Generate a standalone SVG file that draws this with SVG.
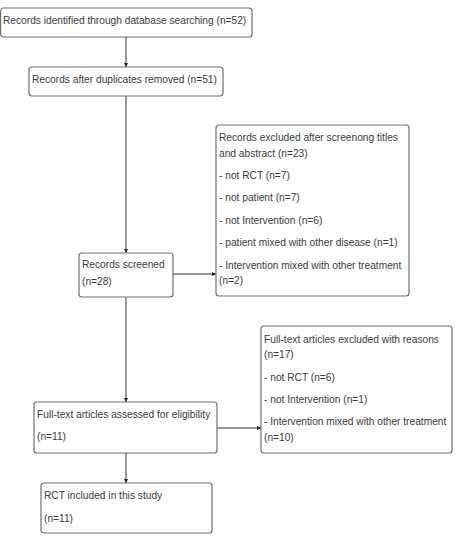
<svg xmlns="http://www.w3.org/2000/svg" width="455" height="538" viewBox="0 0 455 538">
<defs>
<style>
.box{fill:#fff;stroke:#6f6f6f;stroke-width:1.2}
text{font-family:"Liberation Sans",Arial,sans-serif;font-size:10.2px;fill:#3a3a3a}
.ln{stroke:#333;stroke-width:1;fill:none}
</style>
<marker id="ah" viewBox="0 0 6 6" refX="6" refY="3" markerWidth="4" markerHeight="4" orient="auto" markerUnits="userSpaceOnUse">
<path d="M0,0 L6,3 L0,6 z" fill="#222"/>
</marker>
</defs>
<rect width="455" height="538" fill="#fff"/>
<g id="connectors">
<path class="ln" d="M126,37 V67" marker-end="url(#ah)"/>
<path class="ln" d="M126,96 V253" marker-end="url(#ah)"/>
<path class="ln" d="M173,274 H216" marker-end="url(#ah)"/>
<path class="ln" d="M126,297 V402" marker-end="url(#ah)"/>
<path class="ln" d="M217,428 H261" marker-end="url(#ah)"/>
<path class="ln" d="M126,453 V483" marker-end="url(#ah)"/>
</g>
<g id="identified">
<rect class="box" x="0.6" y="8" width="251.4" height="29" rx="3"/>
<text x="3" y="24">Records identified through database searching (n=52)</text>
</g>
<g id="duplicates">
<rect class="box" x="29" y="67" width="194" height="29" rx="3"/>
<text x="32" y="83">Records after duplicates removed (n=51)</text>
</g>
<g id="excluded1">
<rect class="box" x="216" y="125" width="193" height="171" rx="3"/>
<text x="219" y="141">Records excluded after screenong titles</text>
<text x="219" y="157">and abstract (n=23)</text>
<text x="219" y="179">- not RCT (n=7)</text>
<text x="219" y="201">- not patient (n=7)</text>
<text x="219" y="224">- not Intervention (n=6)</text>
<text x="219" y="246">- patient mixed with other disease (n=1)</text>
<text x="219" y="269">- Intervention mixed with other treatment</text>
<text x="219" y="284">(n=2)</text>
</g>
<g id="screened">
<rect class="box" x="79" y="253" width="94" height="44" rx="3"/>
<text x="82" y="268">Records screened</text>
<text x="82" y="285">(n=28)</text>
</g>
<g id="assessed">
<rect class="box" x="34" y="402" width="183" height="51" rx="3"/>
<text x="37" y="418">Full-text articles assessed for eligibility</text>
<text x="37" y="440">(n=11)</text>
</g>
<g id="excluded2">
<rect class="box" x="261" y="326" width="191" height="127" rx="3"/>
<text x="264" y="343">Full-text articles excluded with reasons</text>
<text x="264" y="358">(n=17)</text>
<text x="264" y="381">- not RCT (n=6)</text>
<text x="264" y="403">- not Intervention (n=1)</text>
<text x="264" y="425">- Intervention mixed with other treatment</text>
<text x="264" y="441">(n=10)</text>
</g>
<g id="included">
<rect class="box" x="41" y="483" width="171" height="50" rx="3"/>
<text x="44" y="499">RCT included in this study</text>
<text x="44" y="522">(n=11)</text>
</g>
</svg>
